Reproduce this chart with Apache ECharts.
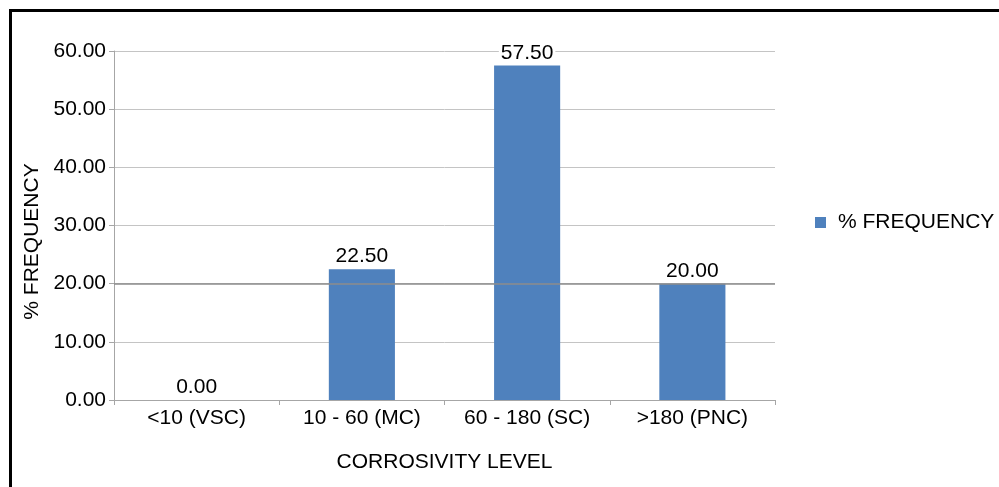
<!DOCTYPE html>
<html>
<head>
<meta charset="utf-8">
<script src="https://cdn.jsdelivr.net/npm/echarts@6/dist/echarts.min.js"></script>
<style>
html,body{margin:0;padding:0;background:#fff;overflow:hidden;}
#frame{position:absolute;left:9px;top:9px;width:1100px;height:600px;border-top:3px solid #000;border-left:3px solid #000;box-sizing:border-box;}
#chart{position:absolute;left:0;top:0;width:999px;height:487px;}
</style>
</head>
<body>
<div id="frame"></div>
<div id="chart"></div>
<script>
var categories = ['<10 (VSC)', '10 - 60 (MC)', '60 - 180 (SC)', '>180 (PNC)'];
var frequency = [0.00, 22.50, 57.50, 20.00];
var seriesName = '% FREQUENCY';
var xTitle = 'CORROSIVITY LEVEL';
var yTitle = '% FREQUENCY';

var FONT = '"Liberation Sans", Arial, sans-serif';
var FS = 21;
var chart = echarts.init(document.getElementById('chart'), null, {renderer: 'canvas'});
chart.setOption({
  backgroundColor: 'transparent',
  animation: false,
  grid: {left: 114, right: 224, top: 51, bottom: 87, containLabel: false},
  legend: {
    data: [seriesName],
    left: 810, top: 207,
    itemWidth: 11, itemHeight: 11, itemGap: 10,
    icon: 'rect',
    itemStyle: {borderWidth: 0},
    textStyle: {fontFamily: FONT, fontSize: FS, color: '#000', padding: [0, 0, 0, 7]}
  },
  xAxis: {
    type: 'category',
    data: categories,
    name: xTitle,
    nameLocation: 'middle',
    nameGap: 52,
    nameTextStyle: {fontFamily: FONT, fontSize: FS, color: '#000'},
    axisLine: {lineStyle: {color: '#a6a6a6', width: 1}},
    axisTick: {show: true, alignWithLabel: false, length: 5, lineStyle: {color: '#a6a6a6'}},
    axisLabel: {fontFamily: FONT, fontSize: FS, color: '#000', margin: 8, interval: 0}
  },
  yAxis: {
    type: 'value',
    min: 0, max: 60, interval: 10,
    name: yTitle,
    nameLocation: 'middle',
    nameGap: 68,
    nameTextStyle: {fontFamily: FONT, fontSize: FS, color: '#000', padding: [0, 32, 0, 0]},
    axisLine: {show: true, lineStyle: {color: '#a6a6a6', width: 1}},
    axisTick: {show: true, length: 5, lineStyle: {color: '#a6a6a6'}},
    axisLabel: {fontFamily: FONT, fontSize: FS, color: '#000', margin: 8,
      formatter: function (v) { return v.toFixed(2); }},
    splitLine: {show: true, lineStyle: {color: '#c4c4c4', width: 1}}
  },
  series: [{
    name: seriesName,
    type: 'bar',
    data: frequency,
    barWidth: '40%',
    itemStyle: {color: '#4f81bd', borderWidth: 0},
    label: {
      show: true, position: 'top', distance: 2,
      fontFamily: FONT, fontSize: FS, color: '#000',
      backgroundColor: '#fff', padding: [0, 2, 0, 2],
      formatter: function (p) { return p.value.toFixed(2); }
    },
    markLine: {
      silent: true, symbol: 'none', label: {show: false},
      lineStyle: {color: '#8c8c8c', width: 1.5, type: 'solid'},
      data: [{yAxis: 20}]
    }
  }]
});
</script>
</body>
</html>
